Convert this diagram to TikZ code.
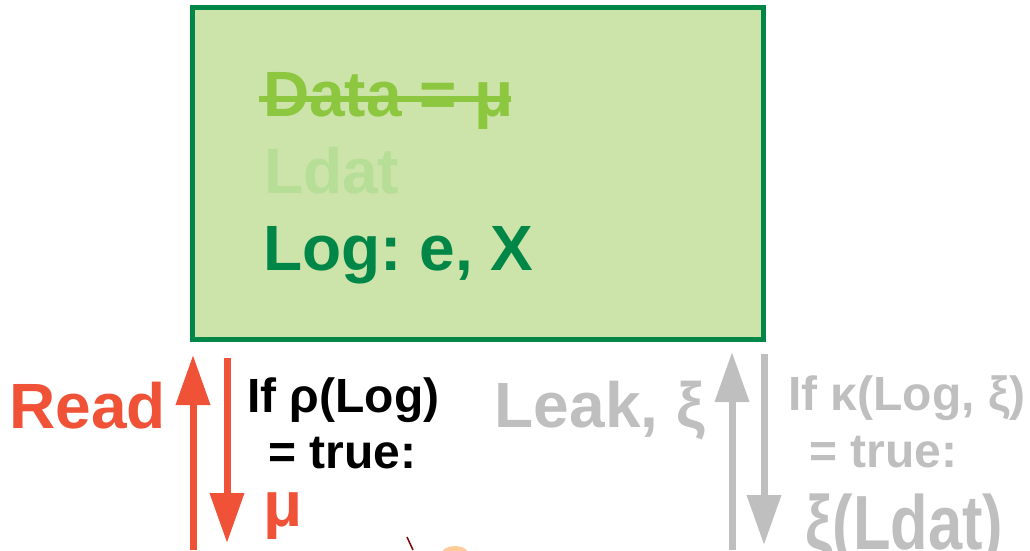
\documentclass[tikz,border=0pt]{standalone}
\usepackage{fontspec}
\setmainfont{Liberation Sans}
\usetikzlibrary{arrows.meta}
\frenchspacing
\definecolor{boxfill}{RGB}{204,228,169}
\definecolor{boxline}{RGB}{0,135,72}
\definecolor{datacol}{RGB}{141,198,63}
\definecolor{ldatcol}{RGB}{183,222,151}
\definecolor{redc}{RGB}{240,82,56}
\definecolor{grayc}{RGB}{191,191,191}
\tikzset{
  big/.style={font=\bfseries\fontsize{64}{72}\selectfont, inner sep=0pt, anchor=base west},
  mid/.style={font=\bfseries\fontsize{48}{56}\selectfont, inner sep=0pt, anchor=base west},
  fatarrow/.style={line width=7pt, -{Triangle[length=50pt,width=33pt]}},
}
\begin{document}
\begin{tikzpicture}[x=1pt,y=-1pt]
\useasboundingbox (0,0) rectangle (1030,550);
% box
\draw[fill=boxfill, draw=boxline, line width=5pt] (192.5,7.5) rectangle (763,339.5);
\node[big, text=datacol] (data) at (263,116) {Data = μ};
\draw[datacol, line width=6pt] (259,99) -- (511,99);
\node[big, text=ldatcol] (ldat) at (264,193) {Ldat};
\node[big, text=boxline] (log) at (263,270) {Log: e, X};
% left side
\node[big, text=redc, anchor=base east] (read) at (166,428) {Read};
\coordinate (ru0) at (193,550);
\coordinate (ru1) at (193,355);
\coordinate (rd0) at (227,358);
\coordinate (rd1) at (227,543);
\draw[fatarrow, redc] (ru0) -- (ru1);
\draw[fatarrow, redc] (rd0) -- (rd1);
\node[mid, text=black] (rho) at (247,412) {If ρ(Log)};
\node[mid, text=black] (true1) at (247,468) {\ \,= true:};
\node[big, text=redc] (mu) at (263,526) {μ};
% right side
\node[big, text=grayc, anchor=base east] (leak) at (705,427) {Leak, ξ};
\coordinate (gu0) at (732,550);
\coordinate (gu1) at (732,352);
\coordinate (gd0) at (764,354);
\coordinate (gd1) at (764,545);
\draw[fatarrow, grayc] (gu0) -- (gu1);
\draw[fatarrow, grayc] (gd0) -- (gd1);
\node[mid, text=grayc] (kappa) at (788,410) {If κ(Log, ξ)};
\node[mid, text=grayc] (true2) at (788,467) {\ \,= true:};
\node[big, text=grayc] (xi) at (805,549) {\scalebox{0.96}[1.2]{ξ(Ldat)}};
% cut-off figure at the bottom
\draw[red!50!black, line width=1.5pt] (407,537) -- (413,550);
\fill[orange!40!white] (455,553) ellipse (13pt and 7pt);
\end{tikzpicture}
\end{document}
